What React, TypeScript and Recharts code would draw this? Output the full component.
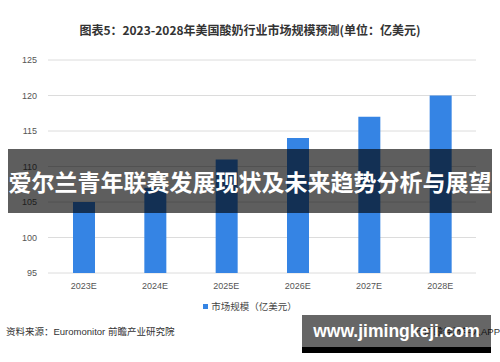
import React from 'react';
import { BarChart, Bar, XAxis, YAxis, CartesianGrid } from 'recharts';

const categories = ['2023E', '2024E', '2025E', '2026E', '2027E', '2028E'];
const marketSize = [105, 107, 111, 114, 117, 120];
const yTicks = [95, 100, 105, 110, 115, 120, 125];
const seriesName = '市场规模（亿美元）';
const titleText = '图表5：2023-2028年美国酸奶行业市场规模预测(单位：亿美元)';
const sourceText = '资料来源：Euromonitor 前瞻产业研究院';
const appText = '@前瞻经济学人APP';
const bannerText = '爱尔兰青年联赛发展现状及未来趋势分析与展望';
const siteText = 'www.jimingkeji.com';

const data = categories.map((c, i) => ({ name: c, value: marketSize[i] }));

const BAR_COLOR = '#3584e4';
const FONT = '"Liberation Sans", "Noto Sans CJK SC", sans-serif';

export default function App() {
  return (
    <div style={{ position: 'absolute', left: 0, top: 0, width: 500, height: 362, background: '#fff', overflow: 'hidden', fontFamily: FONT }}>
      <div style={{ position: 'absolute', left: 0, top: 21, width: 500, textAlign: 'center', fontSize: 12, fontWeight: 700, color: '#333', fontFamily: '"Noto Sans CJK SC", sans-serif' }}>
        {titleText}
      </div>
      <BarChart width={500} height={362} data={data} margin={{ top: 60, right: 24, bottom: 69, left: 0 }}>
        <CartesianGrid vertical={false} stroke="#dcdcdc" />
        <XAxis dataKey="name" axisLine={false} tickLine={false} tickSize={0} tickMargin={10} height={20}
          tick={{ fontSize: 9, fill: '#555', fontFamily: FONT }} interval={0} />
        <YAxis domain={[95, 125]} ticks={yTicks} axisLine={false} tickLine={false} tickSize={0} tickMargin={11} width={48}
          tick={{ fontSize: 9, fill: '#555', fontFamily: FONT }} interval={0} />
        <Bar dataKey="value" name={seriesName} fill={BAR_COLOR} barSize={22} isAnimationActive={false} />
      </BarChart>
      <div style={{ position: 'absolute', left: 0, top: 299, width: 500, display: 'flex', justifyContent: 'center', alignItems: 'center', fontFamily: FONT, fontSize: 9.5, color: '#444' }}>
        <span style={{ display: 'inline-block', width: 5, height: 5, background: BAR_COLOR, marginRight: 3 }} />
        <span>{seriesName}</span>
      </div>
      <div style={{ position: 'absolute', left: 6, top: 324, fontSize: 9.5, color: '#333', fontFamily: FONT }}>{sourceText}</div>
      <div style={{ position: 'absolute', right: 0, top: 324, fontSize: 9.5, color: '#333', fontFamily: FONT }}>{appText}</div>
      <div style={{ position: 'absolute', left: 8, top: 149, width: 484, height: 64, background: 'rgba(0,0,0,0.63)', display: 'flex', alignItems: 'center', justifyContent: 'center' }}>
        <span style={{ color: '#fff', fontSize: 23, fontWeight: 700, fontFamily: '"Noto Sans CJK SC", sans-serif', whiteSpace: 'nowrap' }}>{bannerText}</span>
      </div>
      <div style={{ position: 'absolute', left: 302, top: 315, width: 189, height: 32, background: 'rgba(0,0,0,0.6)', display: 'flex', alignItems: 'center', justifyContent: 'center' }}>
        <span style={{ color: '#fff', fontSize: 17.5, fontWeight: 700, fontFamily: '"Liberation Sans", sans-serif', whiteSpace: 'nowrap' }}>{siteText}</span>
      </div>
      <div style={{ position: 'absolute', left: 302, top: 347, width: 189, height: 6, background: '#000' }} />
    </div>
  );
}
